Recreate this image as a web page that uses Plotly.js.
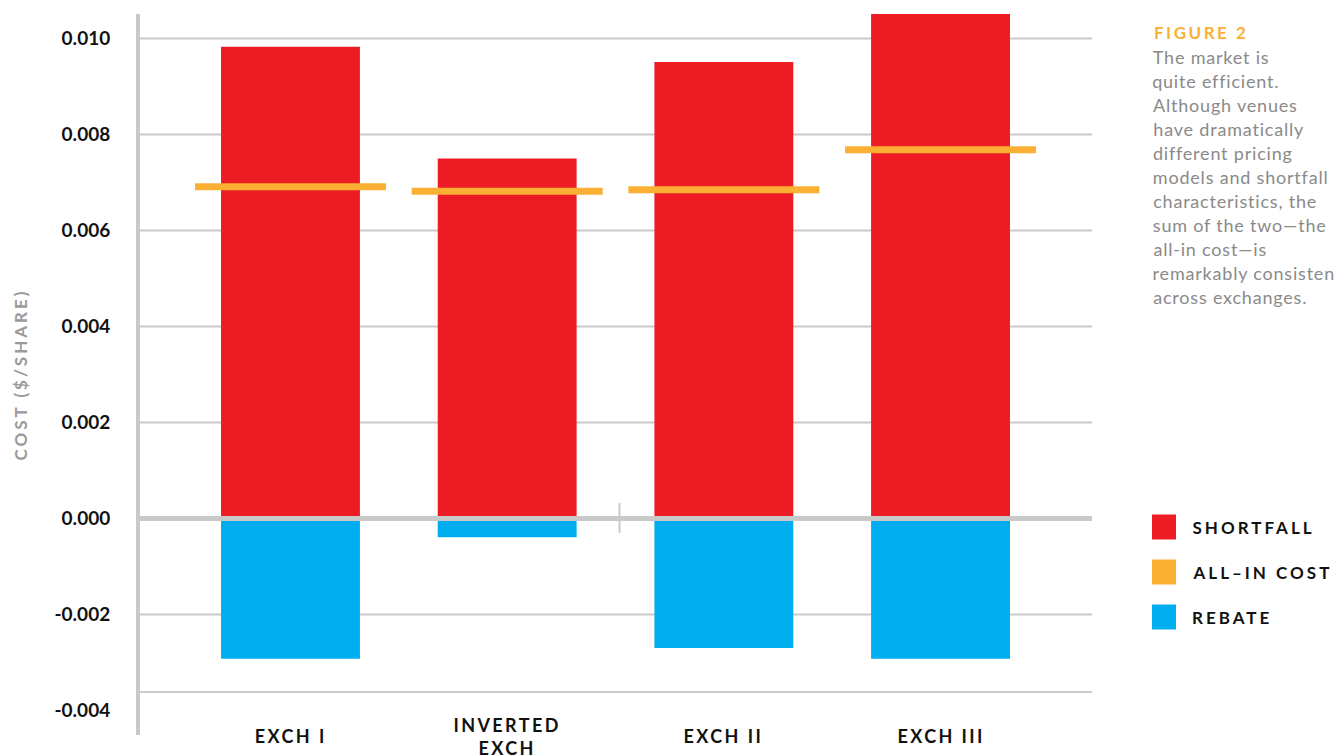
<!DOCTYPE html>
<html>
<head>
<meta charset="utf-8">
<script src="https://cdn.plot.ly/plotly-3.0.1.min.js"></script>
<style>
  html, body { margin: 0; padding: 0; background: #ffffff; }
  #chart { width: 1334px; height: 755px; }
  .ytitle { letter-spacing: 3px; }
</style>
</head>
<body>
<div id="chart"></div>
<script>
// ---- Data ----
const categories = ['EXCH I', 'INVERTED EXCH', 'EXCH II', 'EXCH III'];
const categoryLabels = ['EXCH I', 'INVERTED<br>EXCH', 'EXCH II', 'EXCH III'];
const shortfall = [0.00983, 0.0075, 0.00951, 0.0106];
const rebate = [-0.00292, -0.00039, -0.0027, -0.00292];
const allInCost = [0.00691, 0.00682, 0.00685, 0.00768];
const yTickVals = [-0.004, -0.002, 0.000, 0.002, 0.004, 0.006, 0.008, 0.010];
const yTickText = ['-0.004', '-0.002', '0.000', '0.002', '0.004', '0.006', '0.008', '0.010'];
const gridVals = [-0.002, 0.002, 0.004, 0.006, 0.008, 0.010];
const legendNames = ['SHORTFALL', 'ALL\u2013IN COST', 'REBATE'];
const figureLabel = 'FIGURE 2';
const descLines = [
  'The market is',
  'quite efficient.',
  'Although venues',
  'have dramatically',
  'different pricing',
  'models and shortfall',
  'characteristics, the',
  'sum of the two\u2014the',
  'all-in cost\u2014is',
  'remarkably consistent',
  'across exchanges.'
];

// ---- Style ----
const RED = '#ed1c24', ORANGE = '#fbb034', BLUE = '#00aeef', GRID = '#c9c9c9';
const W = 1334, H = 755;
const M = { l: 140, r: 242, t: 14, b: 20 };
const PW = W - M.l - M.r, PH = H - M.t - M.b;
const px2x = px => (px - M.l) / PW;
const py2y = py => (M.t + PH - py) / PH;

const traces = [
  { type: 'bar', name: 'SHORTFALL', x: categories, y: shortfall, width: 0.641,
    marker: { color: RED }, showlegend: false, hoverinfo: 'skip' },
  { type: 'bar', name: 'REBATE', x: categories, y: rebate, width: 0.641,
    marker: { color: BLUE }, showlegend: false, hoverinfo: 'skip' },
  { type: 'scatter', mode: 'markers', name: 'ALL-IN COST', x: categories, y: allInCost,
    marker: { symbol: 'line-ew', size: 191 / 1.4, color: ORANGE, line: { color: ORANGE, width: 7 } },
    showlegend: false, hoverinfo: 'skip', cliponaxis: false }
];

const shapes = [];
gridVals.forEach(v => shapes.push({
  type: 'line', xref: 'paper', yref: 'y', x0: 0, x1: 1, y0: v, y1: v,
  line: { color: GRID, width: 2 }, layer: 'below'
}));
shapes.push({ type: 'line', xref: 'paper', yref: 'paper', x0: 0, x1: 1,
  y0: py2y(692), y1: py2y(692), line: { color: GRID, width: 2 }, layer: 'below' });
shapes.push({ type: 'line', xref: 'paper', yref: 'y', x0: 0, x1: 1, y0: 0, y1: 0,
  line: { color: GRID, width: 5 }, layer: 'above' });
shapes.push({ type: 'line', xref: 'paper', yref: 'paper', x0: px2x(619.5), x1: px2x(619.5),
  y0: py2y(503), y1: py2y(533), line: { color: GRID, width: 2 }, layer: 'above' });

const legendColors = [RED, ORANGE, BLUE];
const legendCY = [527, 572, 617];
legendColors.forEach((c, i) => shapes.push({
  type: 'rect', xref: 'paper', yref: 'paper',
  x0: px2x(1152), x1: px2x(1176), y0: py2y(legendCY[i] - 12.5), y1: py2y(legendCY[i] + 12.5),
  fillcolor: c, line: { width: 0 }
}));

// annotations with per-index letter spacing (CSS); left-anchored ones get an xshift
const annotations = [];
const spacing = [];
function addAnn(a, sp, leftAnchored) {
  if (leftAnchored && sp) {
    const n = a.text.replace(/<br>/g, '').length;
    a.xshift = n * sp / 2;
  }
  annotations.push(a);
  spacing.push(sp);
}
categories.forEach((c, i) => addAnn({
  xref: 'x', yref: 'paper', x: c, y: py2y(736), text: categoryLabels[i],
  showarrow: false, xanchor: 'center', yanchor: 'middle',
  font: { family: 'Lato, sans-serif', size: 18, color: '#111111', weight: 700 }
}, 2.4, false));
legendNames.forEach((n, i) => addAnn({
  xref: 'paper', yref: 'paper', x: px2x(1190), y: py2y(legendCY[i]), text: n,
  showarrow: false, xanchor: 'left', yanchor: 'middle',
  font: { family: 'Lato, sans-serif', size: 17, color: '#111111', weight: 700 }
}, 3, true));
addAnn({
  xref: 'paper', yref: 'paper', x: px2x(1152), y: py2y(33), text: figureLabel,
  showarrow: false, xanchor: 'left', yanchor: 'middle',
  font: { family: 'Lato, sans-serif', size: 17, color: ORANGE, weight: 700 }
}, 2.5, true);
descLines.forEach((t, i) => addAnn({
  xref: 'paper', yref: 'paper', x: px2x(1151), y: py2y(57 + 24 * i), text: t,
  showarrow: false, xanchor: 'left', yanchor: 'middle',
  font: { family: 'Lato, sans-serif', size: 18, color: '#8a8a8a' }
}, 0.8, true));

const css = spacing.map((s, i) => s ? `.annotation[data-index="${i}"] .annotation-text{letter-spacing:${s}px;}` : '').join('\n');
const st = document.createElement('style');
st.textContent = css;
document.head.appendChild(st);

const layout = {
  width: W, height: H,
  margin: M,
  paper_bgcolor: '#ffffff', plot_bgcolor: '#ffffff',
  barmode: 'relative',
  showlegend: false,
  xaxis: {
    type: 'category', range: [-0.6945, 3.699], showgrid: false, zeroline: false,
    showline: false, showticklabels: false, ticks: '', fixedrange: true
  },
  yaxis: {
    range: [-0.00451, 0.01051], tickvals: yTickVals, ticktext: yTickText,
    showgrid: false, zeroline: false, showline: true, linecolor: GRID, linewidth: 4,
    ticks: '', ticklabelstandoff: 22,
    tickfont: { family: 'Lato, sans-serif', size: 19, color: '#111111', weight: 700 },
    title: { text: 'COST ($/SHARE)', standoff: 24,
      font: { family: 'Lato, sans-serif', size: 17, color: '#9a9a9a', weight: 700 } },
    fixedrange: true
  },
  shapes: shapes,
  annotations: annotations
};

Plotly.newPlot('chart', traces, layout, { displayModeBar: false, staticPlot: true });
</script>
</body>
</html>
